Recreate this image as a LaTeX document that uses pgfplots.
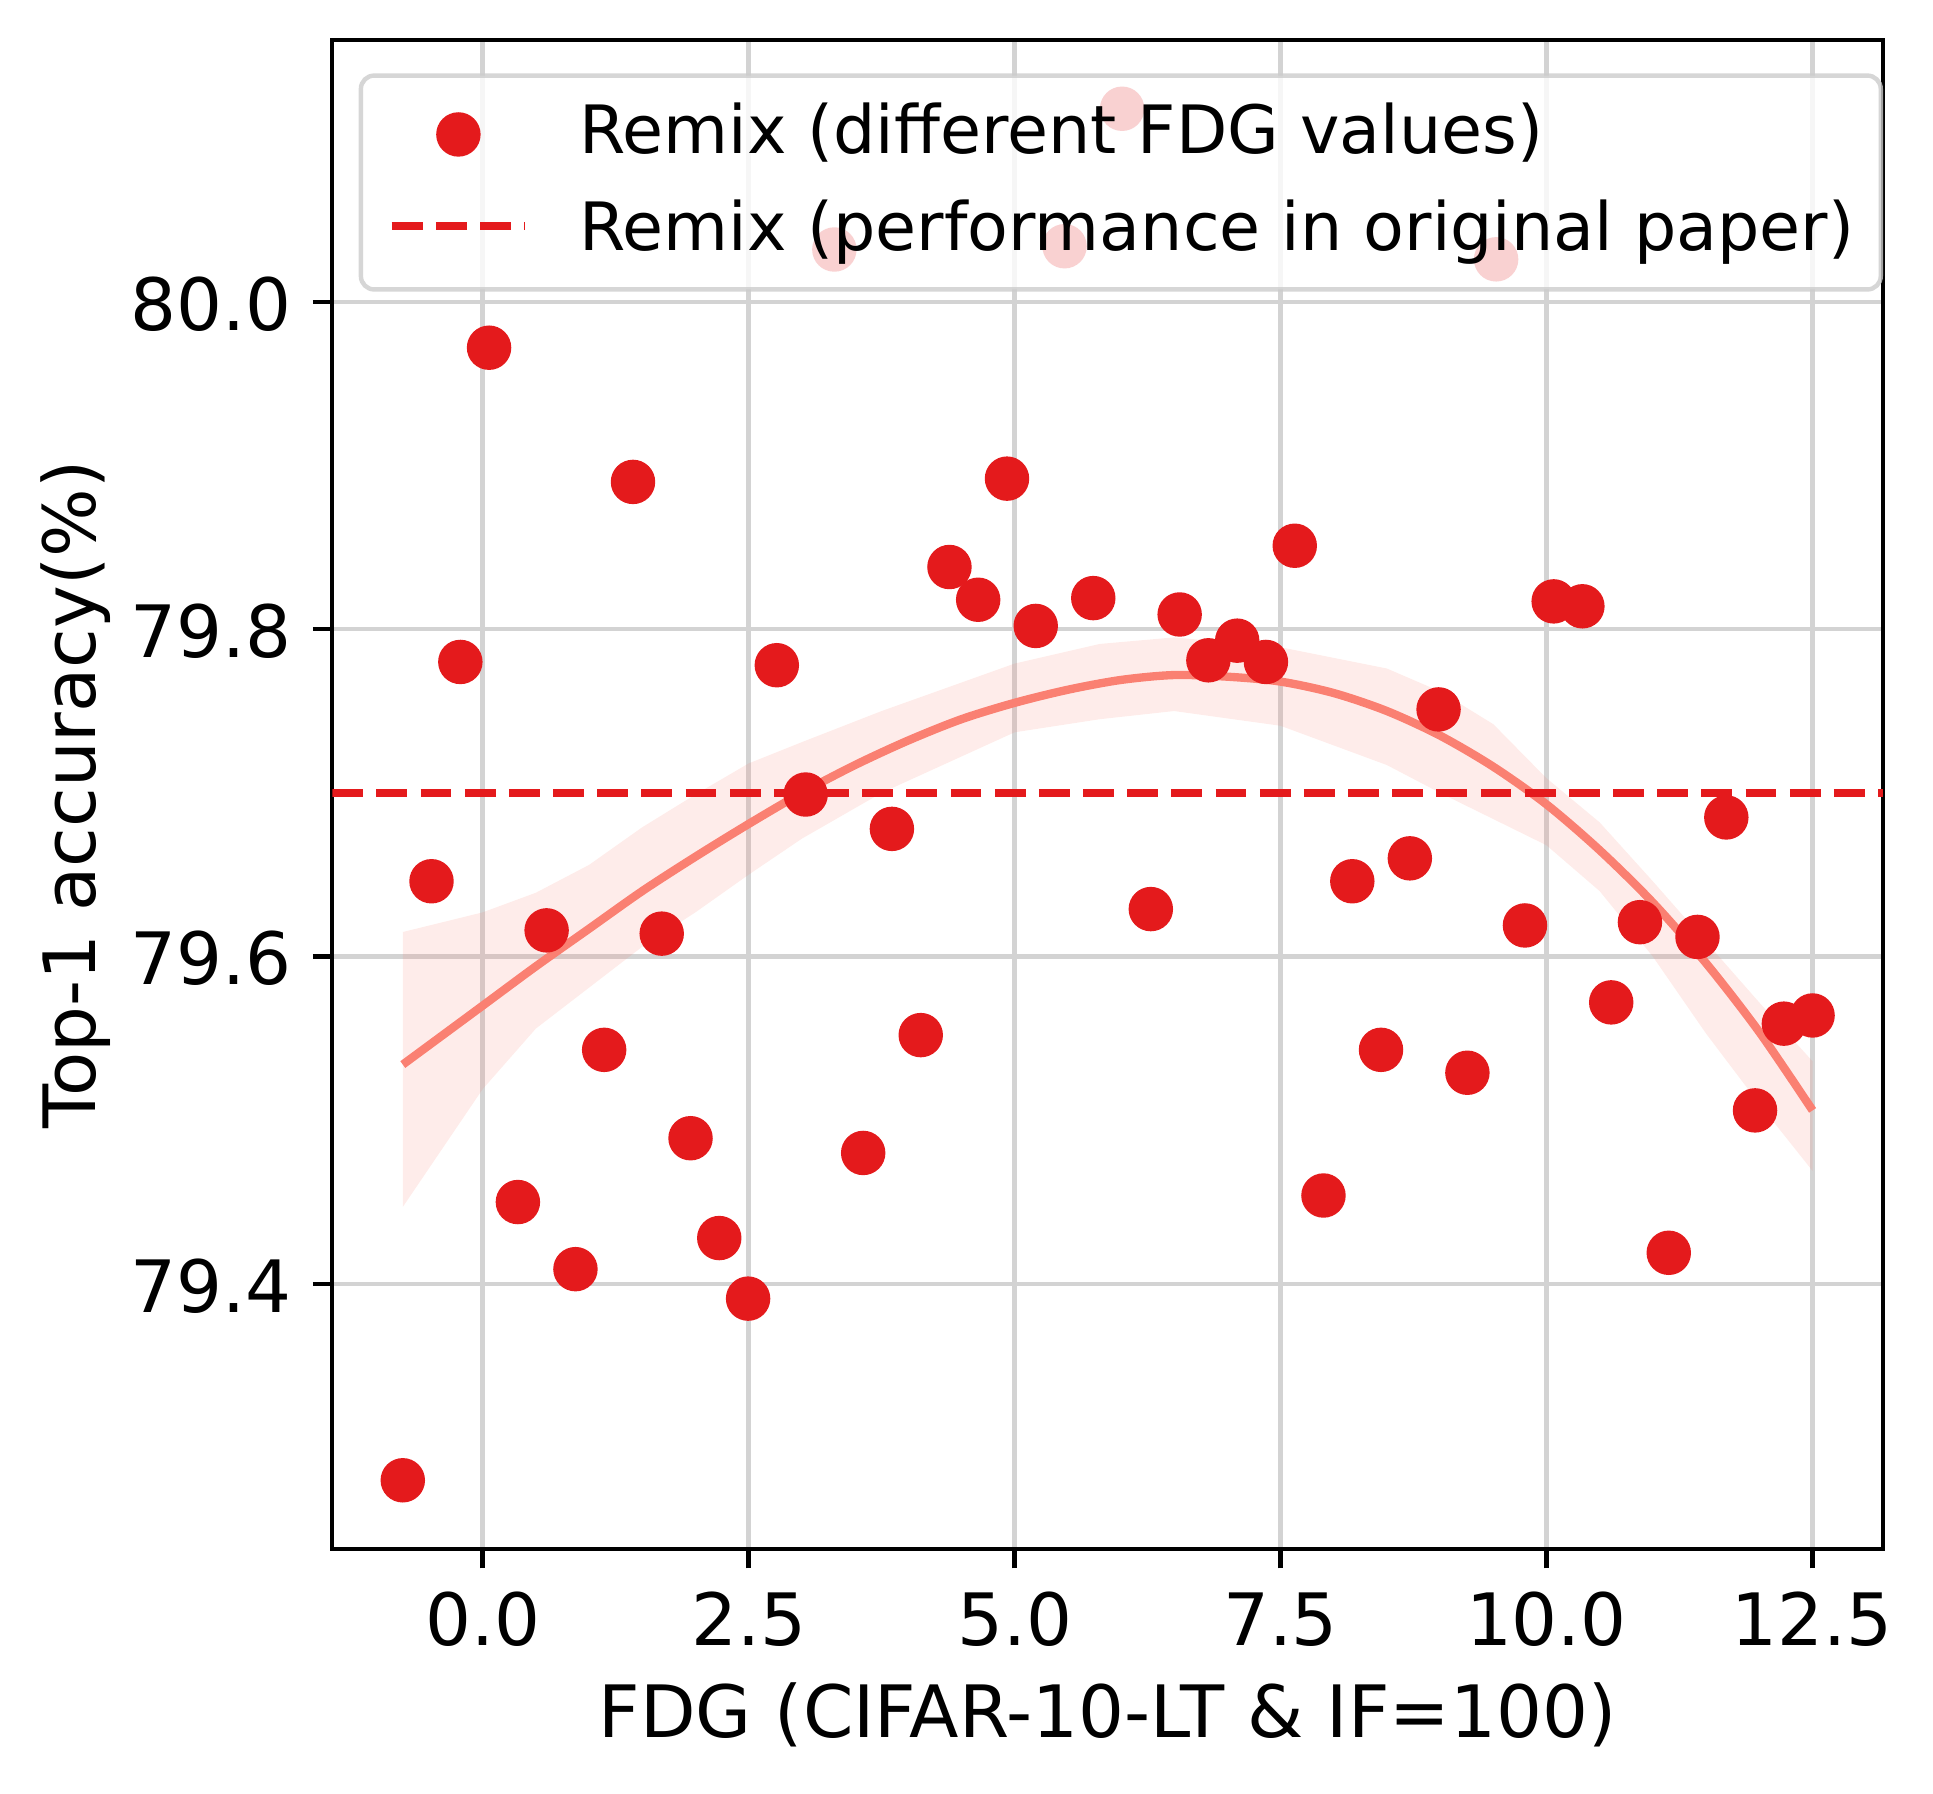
\documentclass[border=0pt]{standalone}
\usepackage{fontspec}
\setmainfont{DejaVu Sans}
\usepackage{pgfplots}
\usepackage{pgfplotstable}
\pgfplotsset{compat=1.18}
\definecolor{ptred}{RGB}{228,26,28}
\definecolor{salmon}{RGB}{250,128,114}
\definecolor{gridgray}{RGB}{211,211,211}
\definecolor{leggray}{RGB}{204,204,204}

\pgfplotstableread{
x y
-0.751 79.280
-0.481 79.646
-0.210 79.780
0.060 79.972
0.331 79.450
0.601 79.616
0.872 79.409
1.142 79.543
1.413 79.890
1.683 79.614
1.954 79.489
2.224 79.428
2.495 79.391
2.765 79.778
3.036 79.699
3.306 80.032
3.577 79.480
3.847 79.678
4.118 79.552
4.388 79.838
4.658 79.818
4.929 79.892
5.199 79.802
5.470 80.034
5.740 79.819
6.011 80.118
6.281 79.629
6.552 79.809
6.822 79.781
7.093 79.793
7.363 79.780
7.634 79.851
7.904 79.454
8.175 79.646
8.445 79.543
8.716 79.660
8.986 79.751
9.257 79.529
9.527 80.026
9.798 79.619
10.068 79.817
10.338 79.814
10.609 79.572
10.879 79.621
11.150 79.419
11.420 79.612
11.691 79.685
11.961 79.506
12.232 79.559
12.502 79.564
}\pts

\pgfplotstableread{
x y
-0.751 79.534
0.0 79.570
0.5 79.594
1.0 79.617
1.5 79.640
2.0 79.661
2.5 79.681
3.0 79.700
3.5 79.717
4.0 79.732
4.5 79.745
5.0 79.755
5.5 79.763
6.0 79.769
6.5 79.772
7.0 79.771
7.5 79.768
8.0 79.761
8.5 79.750
9.0 79.735
9.5 79.716
10.0 79.693
10.5 79.665
11.0 79.633
11.5 79.596
12.0 79.554
12.502 79.506
}\fit

\begin{document}
\begin{tikzpicture}
\begin{axis}[
  scale only axis,
  width=279.13pt, height=271.62pt,
  xmin=-1.414, xmax=13.164, ymin=79.238, ymax=80.160,
  axis line style={line width=0.8pt, black},
  xtick={0,2.5,5,7.5,10,12.5},
  xticklabels={0.0,2.5,5.0,7.5,10.0,12.5},
  ytick={79.4,79.6,79.8,80.0},
  yticklabels={79.4,79.6,79.8,80.0},
  /pgf/number format/assume math mode=true,
  tick align=outside, tick pos=left,
  major tick length=3.5pt,
  every tick/.style={line width=0.8pt, black},
  grid=major,
  grid style={line width=0.8pt, gridgray},
  xticklabel style={font=\fontsize{13}{15.6}\selectfont, anchor=base, inner sep=0pt, yshift=-13.8pt},
  yticklabel style={font=\fontsize{13}{15.6}\selectfont, anchor=base east, inner sep=0pt, xshift=-3.6pt, yshift=-5.1pt},
  xlabel={FDG (CIFAR-10-LT \& IF=100)},
  ylabel={Top-1 accuracy(\%)},
  every axis x label/.style={at={([yshift=-34pt]rel axis cs:0.5,0)}, anchor=base, font=\fontsize{13}{15.6}\selectfont},
  every axis y label/.style={at={([xshift=-42.6pt]rel axis cs:0,0.5)}, rotate=90, anchor=base, font=\fontsize{13}{15.6}\selectfont},
  legend style={
    at={(1,1)}, anchor=north east, xshift=0pt, yshift=-6pt,
    draw=leggray, line width=0.8pt, rounded corners=2.4pt,
    fill=white, fill opacity=0.8, draw opacity=0.8, text opacity=1,
    inner xsep=4.8pt, inner ysep=4.8pt,
    font=\fontsize{12}{14.4}\selectfont,
    row sep=6pt, column sep=9pt,
    nodes={inner sep=0pt, text height=9.3pt, text depth=2.15pt},
    cells={anchor=base west},
  },
]
\addplot[only marks, mark=*, mark size=3.8pt, color=ptred,
  mark options={draw=ptred, fill=ptred, line width=0.4pt},
  legend image code/.code={\path[draw=none, fill=none] (0pt,-2pt) rectangle (24pt,9pt);
    \fill[ptred, fill opacity=1, draw=none] (12pt,3.5pt) circle[radius=4pt];}]
  table[x=x, y=y] {\pts};
\addlegendentry{Remix (different FDG values)}

\addplot[forget plot, draw=none, fill=salmon, fill opacity=0.15] coordinates {
(-0.751,79.615) (0.0,79.627) (0.5,79.639) (1.0,79.656) (1.5,79.679) (2.0,79.699)
(2.5,79.718) (3.0,79.731) (3.75,79.750) (5.0,79.779) (5.8,79.791) (6.5,79.795)
(7.5,79.789) (8.5,79.776) (9.0,79.762) (9.5,79.742) (10.0,79.709) (10.5,79.682)
(11.0,79.646) (11.5,79.609) (12.0,79.572) (12.502,79.536)
(12.502,79.469) (12.0,79.510) (11.5,79.553) (11.0,79.600) (10.5,79.640) (10.0,79.668)
(9.5,79.684) (9.0,79.700) (8.5,79.717) (7.5,79.741) (6.5,79.750) (5.8,79.745)
(5.0,79.737) (3.75,79.700) (3.0,79.672) (2.5,79.650) (2.0,79.627) (1.5,79.606)
(1.0,79.581) (0.5,79.556) (0.0,79.519) (-0.751,79.447)
} -- cycle;

\addplot[forget plot, salmon, line width=1.5pt, smooth] table[x=x, y=y] {\fit};

\addplot[ptred, line width=1.5pt, dash pattern=on 5.55pt off 2.4pt,
  legend image code/.code={\path[draw=none, fill=none] (0pt,-2pt) rectangle (24pt,9pt);
    \draw[ptred, line width=1.5pt, draw opacity=1, dash pattern=on 5.55pt off 2.4pt] (0pt,4.5pt) -- (24pt,4.5pt);}]
  coordinates {(-1.414,79.70) (13.164,79.70)};
\addlegendentry{Remix (performance in original paper)}

\coordinate (sw) at (rel axis cs:0,0);
\coordinate (ne) at (rel axis cs:1,1);
\end{axis}
\pgfresetboundingbox
\path ([xshift=-59.81pt, yshift=-43.92pt]sw) rectangle ([xshift=9.0pt, yshift=7.2pt]ne);
\end{tikzpicture}
\end{document}
